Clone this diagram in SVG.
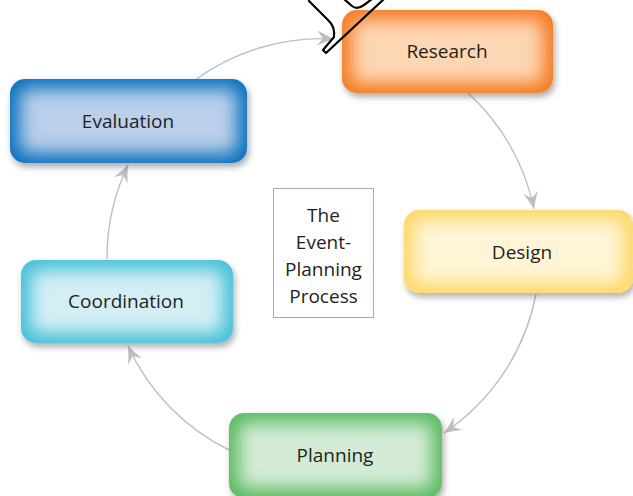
<svg xmlns="http://www.w3.org/2000/svg" width="633" height="496" viewBox="0 0 633 496">
<style>
.lbl{font-family:"Open Sans","Noto Sans",sans-serif;font-size:19px;fill:#231f20;text-anchor:middle}
.conn{fill:none;stroke:#bcbec0;stroke-width:1.4;marker-end:url(#ah)}
.pen{fill:none;stroke:#000;stroke-width:2.2;stroke-linejoin:round;stroke-linecap:round}
</style>
<defs>
<filter id="shadow" x="-10%" y="-20%" width="130%" height="150%">
<feDropShadow dx="2" dy="4" stdDeviation="3" flood-color="#000" flood-opacity="0.33"/>
</filter>
<filter id="glow" x="-50%" y="-80%" width="200%" height="260%">
<feGaussianBlur stdDeviation="8.5"/>
</filter>
<marker id="ah" markerUnits="userSpaceOnUse" markerWidth="24" markerHeight="20" viewBox="-20 -10 24 20" refX="0" refY="0" orient="auto">
<path d="M0,0 Q-8,-3 -17,-7.5 L-11,0 L-17,7.5 Q-8,3 0,0 Z" fill="#bcbec0"/>
</marker>
</defs>
<g id="connectors">
<path class="conn" d="M195,80 A216,216 0 0,1 334,39"/>
<path class="conn" d="M468,93 A216,216 0 0,1 534,209"/>
<path class="conn" d="M536,294 A216,216 0 0,1 444,433"/>
<path class="conn" d="M229,450 A216,216 0 0,1 128,346"/>
<path class="conn" d="M107,259 A216,216 0 0,1 128,165"/>
</g>
<g id="research">
<rect x="342" y="10" width="211" height="83" rx="15" fill="#f47b20" filter="url(#shadow)"/>
<rect x="352" y="20" width="191" height="63" rx="8" fill="#fdd6b3" filter="url(#glow)"/>
<text class="lbl" x="447" y="58">Research</text>
</g>
<g id="design">
<rect x="404" y="210" width="229" height="83" rx="15" fill="#fed86a" filter="url(#shadow)"/>
<rect x="414" y="220" width="209" height="63" rx="8" fill="#fff5d6" filter="url(#glow)"/>
<text class="lbl" x="522" y="259">Design</text>
</g>
<g id="planning">
<rect x="229" y="413" width="213" height="85" rx="15" fill="#5cbc63" filter="url(#shadow)"/>
<rect x="239" y="423" width="193" height="65" rx="8" fill="#d3ebd4" filter="url(#glow)"/>
<text class="lbl" x="335" y="462">Planning</text>
</g>
<g id="coordination">
<rect x="21" y="260" width="212" height="83" rx="15" fill="#44c1d7" filter="url(#shadow)"/>
<rect x="31" y="270" width="192" height="63" rx="8" fill="#d3eef5" filter="url(#glow)"/>
<text class="lbl" x="126" y="308">Coordination</text>
</g>
<g id="evaluation">
<rect x="10" y="79" width="237" height="84" rx="15" fill="#0b72bf" filter="url(#shadow)"/>
<rect x="20" y="89" width="217" height="64" rx="8" fill="#b9cfea" filter="url(#glow)"/>
<text class="lbl" x="128" y="128">Evaluation</text>
</g>
<g id="title">
<rect x="273.5" y="188.5" width="100" height="129" fill="#fff" stroke="#a7a9ac" stroke-width="1"/>
<text class="lbl" x="323.5" y="222">The</text>
<text class="lbl" x="323.5" y="249">Event-</text>
<text class="lbl" x="323.5" y="276">Planning</text>
<text class="lbl" x="323.5" y="303">Process</text>
</g>
<g id="pen">
<path class="pen" d="M309,1 L328,20 Q335,27 334,35 L334,37 L323,50 L326,53 L384,-1"/>
<path class="pen" d="M344,-1 L352,6 Q357,10 364,5 L372,-1"/>
</g>
</svg>
